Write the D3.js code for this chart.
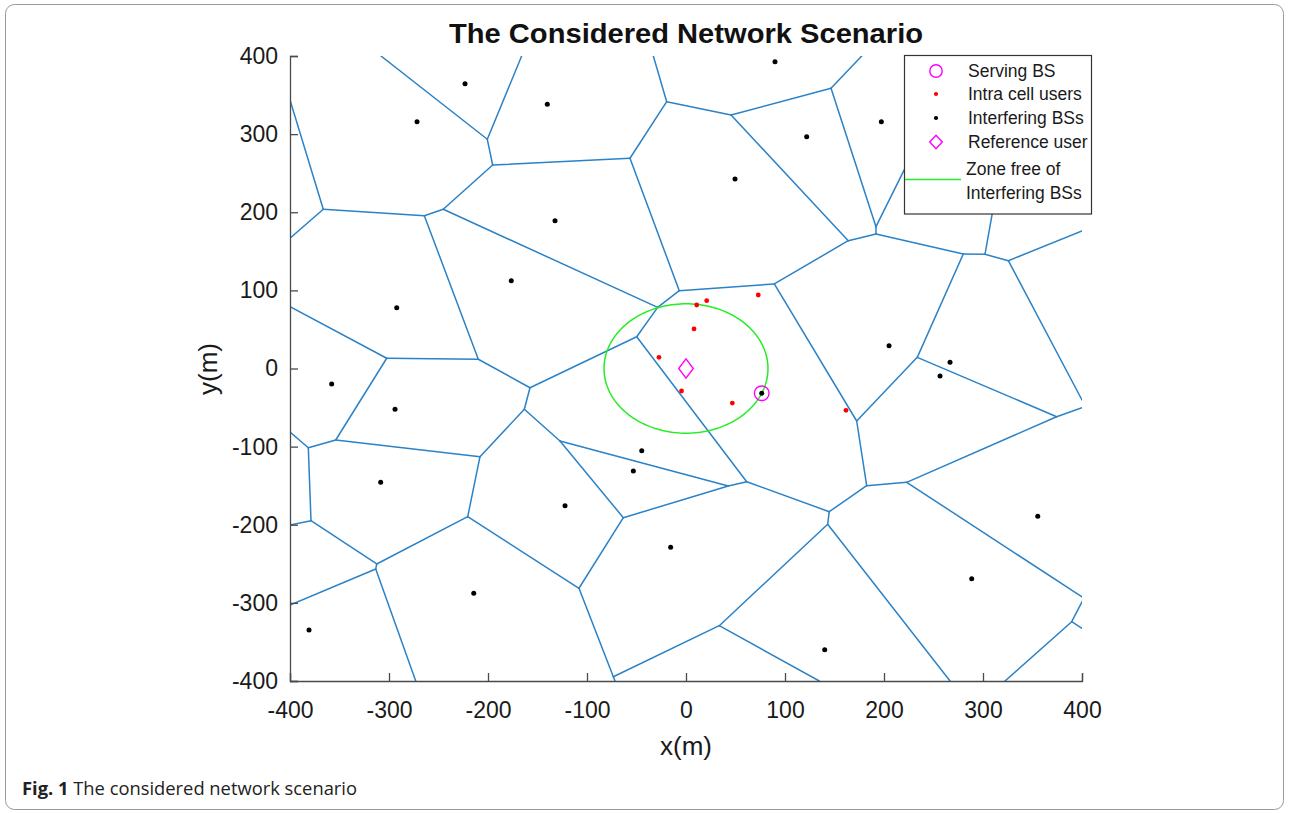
<!DOCTYPE html>
<html><head><meta charset="utf-8">
<script src="https://cdn.jsdelivr.net/npm/d3@7"></script>
<style>body{margin:0;background:#fff}</style>
</head><body>
<svg id="chart" width="1289" height="813"></svg>
<script>
// ---------------- data (metres) ----------------
const interferingBSX = [-223.2,-140.1,-271.7,-132.3,-176.5,-292.2,89.9,197.3,121.9,49.5,205.1,266.7,-357.9,-293.9,-308.4,-44.7,-53.2,-122.2,-15.5,-214.4,-380.8,256.6,355.3,288.6,140.1,76.5];
const interferingBSY = [364.5,338.2,315.9,189.2,112.4,77.8,392.7,315.9,296.7,242.6,29.2,7.9,-19.8,-52.2,-145.7,-105.2,-131.2,-175.6,-228.9,-287.7,-334.7,-9.6,-189.2,-269.1,-359.9,-31.7];
const servingBS = [76.5, -31.7];
const userX = [-27.3,73.0,20.9,10.8,8.1,-4.5,46.8,161.6];
const userY = [14.3,94.1,86.8,81.3,50.6,-28.8,-44.2,-53.5];
const referenceUser = [0, 0];
const zoneRadius = 82.8;
const xTicks = [-400,-300,-200,-100,0,100,200,300,400];
const yTicks = [-400,-300,-200,-100,0,100,200,300,400];
const voronoiVertices = [
  [-200.7,293.4],[-195.3,260.5],[-56.6,269.1],[-19.5,341.5],[-366.4,203.8],[-264.3,195.6],[-245.2,203.8],[-28.6,78.3],
  [-209.8,11.8],[-302.3,13.1],[-6.8,99.6],[-49.8,40.7],[45.5,324.5],[146.5,358.7],[163.9,163.6],[191.9,181.5],
  [191.9,172.2],[280.1,146.6],[302.0,146.2],[325.6,138.0],[233.6,14.3],[89.2,108.2],[172.4,-67.2],[182.5,-150.0],
  [222.9,-145.7],[374.4,-61.7],[402.0,-294.0],[389.6,-324.1],[144.7,-183.3],[143.1,-199.4],[61.3,-144.9],[42.7,-150.4],
  [33.6,-329.2],[-353.8,-91.5],[-208.1,-112.9],[-381.5,-101.4],[-378.8,-194.8],[-312.4,-250.2],[-313.4,-256.6],[-220.5,-189.7],
  [-163.3,-52.2],[-157.6,-24.6],[-127.3,-92.8],[-63.3,-191.0],[-108.1,-281.3],[-73.4,-394.5],
  [-308.1,400],[-166.0,400],[-33.0,400],[177.5,400],[246.5,320.8],[315.4,241.3],[400,176.0],[400,-40.3],
  [-400,343.7],[-400,166.7],[-400,79.1],[-400,-81.3],[-400,-200.3],[-400,-302.7],[-273.0,-400],[-71.7,-400],
  [266.7,-400],[134.6,-400],[400,-50.2],[400,-332.5],[322.2,-400]
];
const voronoiEdges = [
  [46,0],[47,0],[0,1],[1,2],[2,3],[3,48],[3,12],[12,13],[13,49],[12,14],[13,15],[15,50],[15,16],[16,14],[16,17],
  [17,18],[18,51],[18,19],[19,52],[19,53],[17,20],[14,21],[21,10],[10,2],[10,7],[7,6],[7,11],[6,1],[6,5],[5,4],
  [4,54],[4,55],[5,8],[8,9],[9,56],[9,33],[8,41],[41,11],[41,40],[40,34],[40,42],[34,33],[33,35],[35,57],[35,36],
  [36,58],[36,37],[37,38],[38,59],[38,60],[37,39],[39,34],[39,44],[44,43],[44,45],[45,61],[45,32],[43,42],[43,31],
  [42,31],[31,30],[30,11],[30,28],[28,23],[28,29],[29,32],[29,62],[32,63],[23,24],[23,22],[22,21],[22,20],[20,25],
  [25,64],[25,24],[24,26],[26,27],[27,65],[27,66]
];
const legendLabels = ["Serving BS","Intra cell users","Interfering BSs","Reference user"];

// ---------------- drawing ----------------
const svg = d3.select("#chart");
const FONT = "'Liberation Sans', Arial, Helvetica, sans-serif";
const x = d3.scaleLinear().domain([-400,400]).range([290,1082]);
const y = d3.scaleLinear().domain([-400,400]).range([681,56]);

// outer frame
svg.append("rect").attr("x",5.5).attr("y",4.5).attr("width",1278).attr("height",805)
  .attr("rx",9).attr("fill","none").attr("stroke","#9a9a9a").attr("stroke-width",1);

svg.append("defs").append("clipPath").attr("id","plotclip")
  .append("rect").attr("x",x(-400)).attr("y",y(400)).attr("width",x(400)-x(-400)).attr("height",y(-400)-y(400));

const plot = svg.append("g").attr("clip-path","url(#plotclip)");
plot.selectAll("line.edge").data(voronoiEdges).join("line").attr("class","edge")
  .attr("x1",d=>x(voronoiVertices[d[0]][0])).attr("y1",d=>y(voronoiVertices[d[0]][1]))
  .attr("x2",d=>x(voronoiVertices[d[1]][0])).attr("y2",d=>y(voronoiVertices[d[1]][1]))
  .attr("stroke","#2b82c6").attr("stroke-width",1.5).attr("stroke-linecap","round");

// zone free of interfering BSs
const angles = d3.range(0, 361, 2);
plot.append("path")
  .attr("d", d3.line().x(a=>x(referenceUser[0]+zoneRadius*Math.cos(a*Math.PI/180))).y(a=>y(referenceUser[1]+zoneRadius*Math.sin(a*Math.PI/180)))(angles))
  .attr("fill","none").attr("stroke","#22ee22").attr("stroke-width",1.5);

// interfering BSs
plot.selectAll("circle.bs").data(interferingBSX).join("circle").attr("class","bs")
  .attr("cx",d=>x(d)).attr("cy",(d,i)=>y(interferingBSY[i])).attr("r",2.5).attr("fill","#000");
// users
plot.selectAll("circle.user").data(userX).join("circle").attr("class","user")
  .attr("cx",d=>x(d)).attr("cy",(d,i)=>y(userY[i])).attr("r",2.4).attr("fill","#ff0000");
// serving BS
plot.append("circle").attr("cx",x(servingBS[0])).attr("cy",y(servingBS[1])).attr("r",7.3)
  .attr("fill","none").attr("stroke","#ff00ff").attr("stroke-width",1.4);
// reference user diamond
function diamond(cx,cy,hw,hh){return `M${cx},${cy-hh}L${cx+hw},${cy}L${cx},${cy+hh}L${cx-hw},${cy}Z`;}
plot.append("path").attr("d",diamond(x(referenceUser[0]),y(referenceUser[1]),7.3,9.6))
  .attr("fill","none").attr("stroke","#ff00ff").attr("stroke-width",1.4);

// axes
const axisColor = "#4a4a4a";
const gx = svg.append("g").attr("transform",`translate(0,${y(-400)})`)
  .call(d3.axisBottom(x).tickValues(xTicks).tickSize(-8).tickPadding(21).tickFormat(d3.format("d")));
const gy = svg.append("g").attr("transform",`translate(${x(-400)},0)`)
  .call(d3.axisLeft(y).tickValues(yTicks).tickSize(-8).tickPadding(12).tickFormat(d3.format("d")));
[gx,gy].forEach(g=>{
  g.select(".domain").attr("stroke",axisColor).attr("stroke-width",1.3);
  g.selectAll(".tick line").attr("stroke",axisColor).attr("stroke-width",1.3);
  g.selectAll(".tick text").attr("fill","#1a1a1a").style("font-family",FONT).style("font-size","23px");
});
gx.selectAll(".tick text").text(d=>d<0?"-"+Math.abs(d):d);
gy.selectAll(".tick text").text(d=>d<0?"-"+Math.abs(d):d);

// labels
svg.append("text").attr("x",686).attr("y",43).attr("text-anchor","middle")
  .style("font-family",FONT).style("font-size","27px").style("font-weight","bold").attr("fill","#111")
  .attr("textLength",474).attr("lengthAdjust","spacingAndGlyphs")
  .text("The Considered Network Scenario");
svg.append("text").attr("x",686).attr("y",755).attr("text-anchor","middle")
  .style("font-family",FONT).style("font-size","26px").attr("fill","#1a1a1a").text("x(m)");
svg.append("text").attr("transform","translate(217,369) rotate(-90)").attr("text-anchor","middle")
  .style("font-family",FONT).style("font-size","26px").attr("fill","#1a1a1a").text("y(m)");

// legend
const lg = svg.append("g");
lg.append("rect").attr("x",904.5).attr("y",55.5).attr("width",187).attr("height",158.5)
  .attr("fill","#fff").attr("stroke","#333").attr("stroke-width",1.2);
const ly = [71,94,118,142];
const mx = 936;
const LFS = "17.5px";
lg.append("circle").attr("cx",mx).attr("cy",ly[0]).attr("r",6.2).attr("fill","none").attr("stroke","#ff00ff").attr("stroke-width",1.4);
lg.append("circle").attr("cx",mx).attr("cy",ly[1]).attr("r",2.1).attr("fill","#ff0000");
lg.append("circle").attr("cx",mx).attr("cy",ly[2]).attr("r",2.1).attr("fill","#000");
lg.append("path").attr("d",diamond(mx,ly[3],6.3,6.8)).attr("fill","none").attr("stroke","#ff00ff").attr("stroke-width",1.4);
lg.selectAll("text.lab").data(legendLabels).join("text").attr("class","lab")
  .attr("x",968).attr("y",(d,i)=>ly[i]).attr("dy","0.35em")
  .style("font-family",FONT).style("font-size",LFS).attr("fill","#1a1a1a").text(d=>d);
lg.append("line").attr("x1",905).attr("x2",961).attr("y1",179.5).attr("y2",179.5).attr("stroke","#22ee22").attr("stroke-width",1.5);
lg.append("text").attr("x",966).attr("y",169).attr("dy","0.35em").style("font-family",FONT).style("font-size",LFS).attr("fill","#1a1a1a").text("Zone free of");
lg.append("text").attr("x",966).attr("y",193).attr("dy","0.35em").style("font-family",FONT).style("font-size",LFS).attr("fill","#1a1a1a").text("Interfering BSs");

// caption
const cap = svg.append("text").attr("x",22).attr("y",795)
  .style("font-family","'Open Sans','Noto Sans',sans-serif").style("font-size","17.5px").attr("fill","#222")
  .attr("textLength",335).attr("lengthAdjust","spacingAndGlyphs");
cap.append("tspan").style("font-weight","bold").text("Fig. 1");
cap.append("tspan").text(" The considered network scenario");
</script>
</body></html>
